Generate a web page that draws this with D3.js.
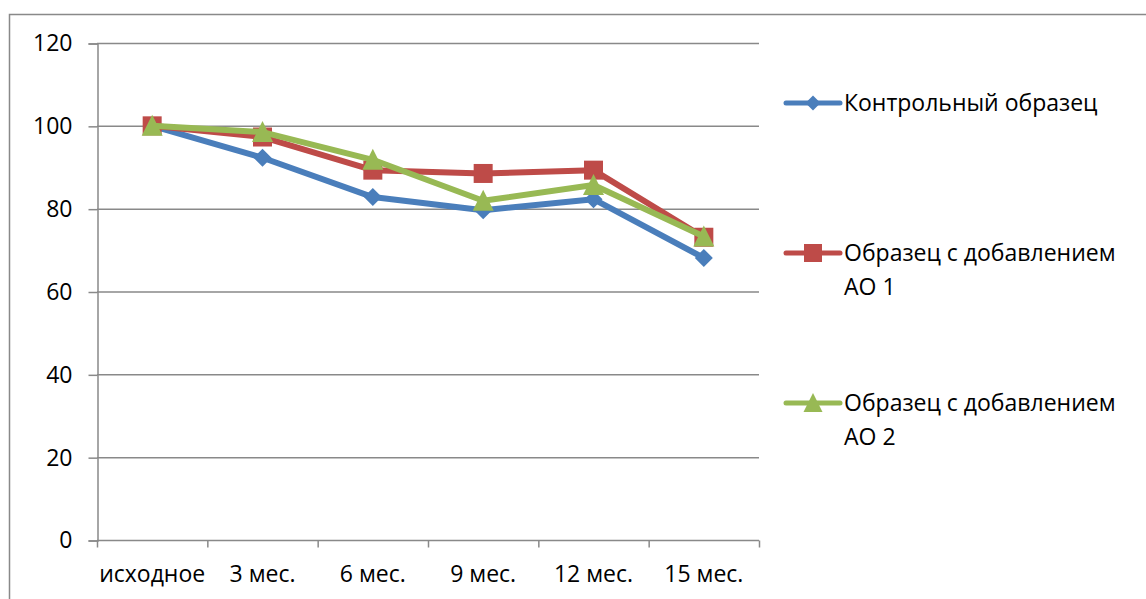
<!DOCTYPE html>
<html>
<head>
<meta charset="utf-8">
<script src="https://cdn.jsdelivr.net/npm/d3@7"></script>
<style>
  html, body { margin: 0; padding: 0; background: #fff; }
  svg { display: block; }
  text { font-family: "Open Sans", "Noto Sans", sans-serif; fill: #000; }
</style>
</head>
<body>
<svg id="chart" width="1146" height="599"></svg>
<script>
// Categories (storage time)
const categories = ["исходное", "3 мес.", "6 мес.", "9 мес.", "12 мес.", "15 мес."];

// Series values, %
const control = [100, 92.3, 82.8, 79.6, 82.3, 68.1];
const withAO1 = [100, 97.3, 89.3, 88.5, 89.3, 73.1];
const withAO2 = [100, 98.5, 91.8, 81.9, 85.7, 73.3];

const seriesNames = ["Контрольный образец", "Образец с добавлением АО 1", "Образец с добавлением АО 2"];
const yTicks = [0, 20, 40, 60, 80, 100, 120];

const series = [
  { name: seriesNames[0], values: control, color: "#4A7EBB", marker: "diamond" },
  { name: seriesNames[1], values: withAO1, color: "#BE4B48", marker: "square" },
  { name: seriesNames[2], values: withAO2, color: "#98B954", marker: "triangle" }
];

const svg = d3.select("#chart");
const gridColor = "#898989";

// outer frame
svg.append("path")
  .attr("d", "M9.5,610 V14.5 H1150")
  .attr("fill", "none")
  .attr("stroke", gridColor)
  .attr("stroke-width", 1.5);

const plot = { left: 97, right: 759, top: 43, bottom: 540 };

const x = d3.scaleBand().domain(categories).range([plot.left, plot.right]).padding(0);
const y = d3.scaleLinear().domain([0, 120]).range([plot.bottom, plot.top]);
const cx = c => x(c) + x.bandwidth() / 2;

// horizontal gridlines
svg.append("g")
  .selectAll("line")
  .data(yTicks.filter(t => t > 0))
  .join("line")
  .attr("x1", plot.left).attr("x2", plot.right)
  .attr("y1", d => y(d) + 0.5).attr("y2", d => y(d) + 0.5)
  .attr("stroke", gridColor).attr("stroke-width", 1.5);

// y axis
const yAxis = svg.append("g")
  .attr("transform", `translate(${plot.left + 0.5},0.5)`)
  .call(d3.axisLeft(y).tickValues(yTicks).tickSize(9).tickPadding(16));
yAxis.select(".domain").attr("stroke", gridColor).attr("stroke-width", 1.5);
yAxis.selectAll(".tick line").attr("stroke", gridColor).attr("stroke-width", 1.5);
yAxis.selectAll(".tick text")
  .attr("font-size", 23).attr("font-family", "Open Sans, sans-serif").attr("fill", "#000");

// x axis: ticks at category boundaries, labels centred on categories
const xAxisG = svg.append("g").attr("transform", `translate(0,${plot.bottom + 0.5})`);
xAxisG.append("line")
  .attr("x1", plot.left).attr("x2", plot.right)
  .attr("stroke", gridColor).attr("stroke-width", 1.5);
const boundaries = categories.map(c => x(c)).concat([x(categories[categories.length - 1]) + x.bandwidth()]);
xAxisG.selectAll("line.tick")
  .data(boundaries)
  .join("line")
  .attr("class", "tick")
  .attr("x1", d => d + 0.5).attr("x2", d => d + 0.5)
  .attr("y1", 0).attr("y2", 7)
  .attr("stroke", gridColor).attr("stroke-width", 1.5);
xAxisG.selectAll("text")
  .data(categories)
  .join("text")
  .attr("x", d => cx(d))
  .attr("y", 41)
  .attr("text-anchor", "middle")
  .attr("font-size", 23)
  .text(d => d);

// marker shapes
function markerPath(type, s) {
  const h = s / 2;
  if (type === "diamond") return `M0,${-h}L${h},0L0,${h}L${-h},0Z`;
  if (type === "square") return `M${-h},${-h}H${h}V${h}H${-h}Z`;
  return `M0,${-h * 1.05}L${h},${h * 0.95}L${-h},${h * 0.95}Z`;
}
const markerSize = { diamond: 18, square: 19, triangle: 21 };

const line = d3.line().x((d, i) => cx(categories[i])).y(d => y(d));

series.forEach(s => {
  const g = svg.append("g");
  g.append("path")
    .datum(s.values)
    .attr("d", line)
    .attr("fill", "none")
    .attr("stroke", s.color)
    .attr("stroke-width", 6)
    .attr("stroke-linejoin", "round")
    .attr("stroke-linecap", "round");
  g.selectAll("path.m")
    .data(s.values)
    .join("path")
    .attr("class", "m")
    .attr("transform", (d, i) => `translate(${cx(categories[i])},${y(d)})`)
    .attr("d", markerPath(s.marker, markerSize[s.marker]))
    .attr("fill", s.color);
});

// legend
const legendRows = [
  { lines: ["Контрольный образец"], y: 103 },
  { lines: ["Образец с добавлением", "АО 1"], y: 253 },
  { lines: ["Образец с добавлением", "АО 2"], y: 403 }
];
const legendMarkerSize = { diamond: 15, square: 18, triangle: 19 };
series.forEach((s, i) => {
  const row = legendRows[i];
  const g = svg.append("g").attr("transform", `translate(0,${row.y})`);
  g.append("line")
    .attr("x1", 786).attr("x2", 840)
    .attr("stroke", s.color).attr("stroke-width", 5)
    .attr("stroke-linecap", "round");
  g.append("path")
    .attr("transform", "translate(813,0)")
    .attr("d", markerPath(s.marker, legendMarkerSize[s.marker]))
    .attr("fill", s.color);
  row.lines.forEach((t, k) => {
    g.append("text")
      .attr("x", 844)
      .attr("y", k * 34)
      .attr("dy", "0.36em")
      .attr("font-size", 23)
      .text(t);
  });
});
</script>
</body>
</html>
